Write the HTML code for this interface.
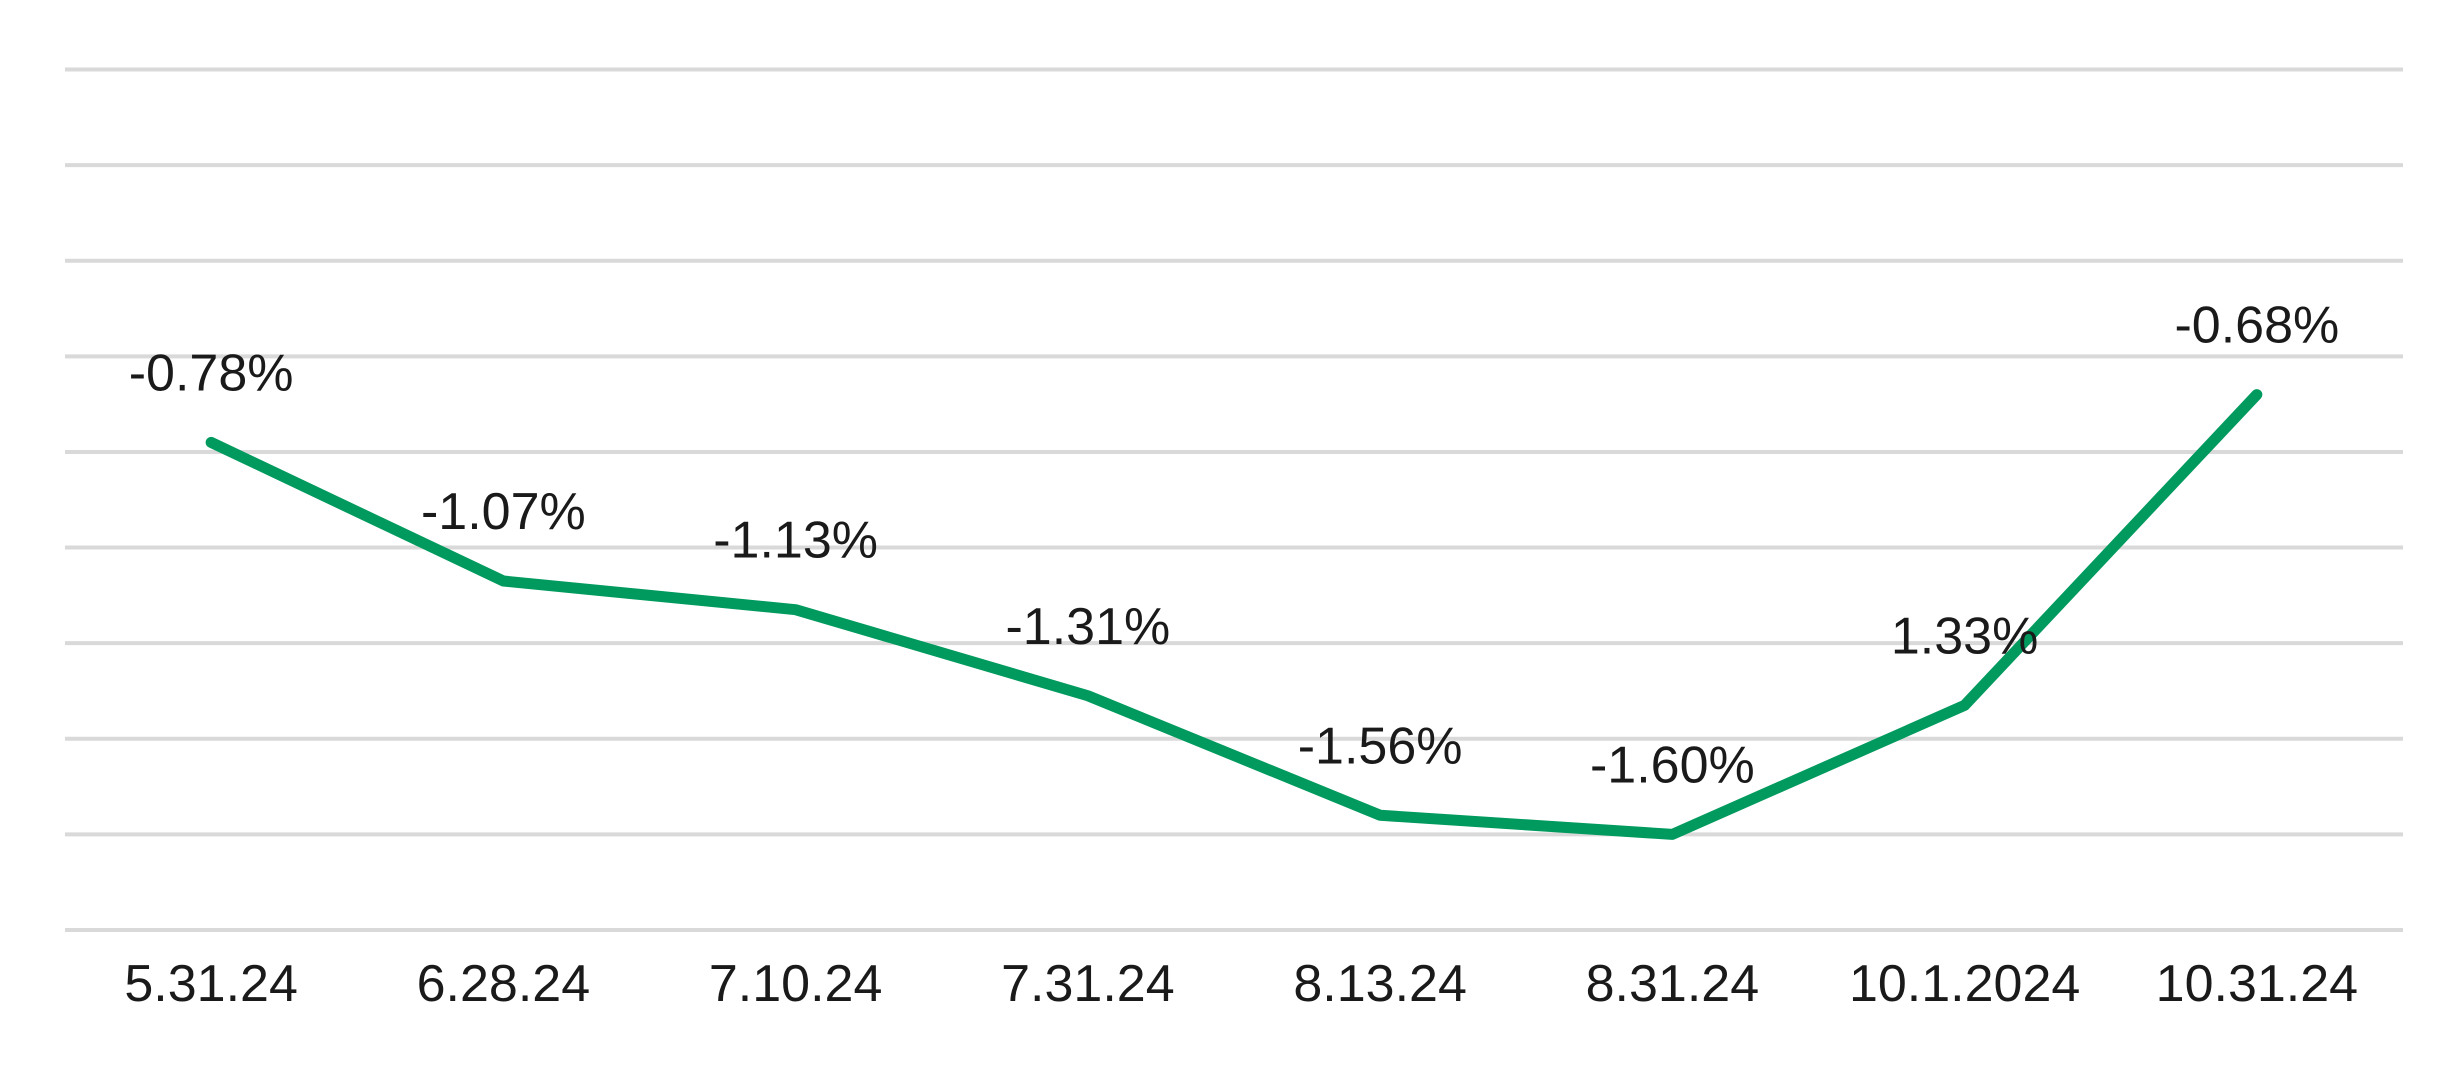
<!DOCTYPE html>
<html><head><meta charset="utf-8"><style>
html,body{margin:0;padding:0;background:#fff;}
svg{display:block;font-family:"Liberation Sans",sans-serif;}
</style></head><body>
<svg id="chart" width="2447" height="1090" viewBox="0 0 2447 1090" xmlns="http://www.w3.org/2000/svg">
<g id="grid"></g>
<g id="series"></g>
<g id="labels"></g>
<g id="xaxis"></g>
</svg>
<script>
const categories = ["5.31.24","6.28.24","7.10.24","7.31.24","8.13.24","8.31.24","10.1.2024","10.31.24"];
const values = [-0.78,-1.07,-1.13,-1.31,-1.56,-1.60,-1.33,-0.68];
const valueLabels = ["-0.78%","-1.07%","-1.13%","-1.31%","-1.56%","-1.60%","1.33%","-0.68%"];
const yTicks = [0,-0.2,-0.4,-0.6,-0.8,-1.0,-1.2,-1.4,-1.6,-1.8];

const SVGNS="http://www.w3.org/2000/svg";
const plotLeft=65,plotRight=2403,plotTop=69.5,plotBottom=930,yMaxV=0,yMinV=-1.8;
function xPos(i){const w=(plotRight-plotLeft)/categories.length;return plotLeft+w*(i+0.5);}
function yPos(v){return plotTop+(yMaxV-v)/(yMaxV-yMinV)*(plotBottom-plotTop);}
function mk(tag,attrs,parent){const e=document.createElementNS(SVGNS,tag);for(const k in attrs)e.setAttribute(k,attrs[k]);parent.appendChild(e);return e;}

const gridG=document.getElementById('grid');
yTicks.forEach(t=>{
  const l=mk('line',{x1:plotLeft,x2:plotRight,y1:yPos(t),y2:yPos(t),stroke:'#d9d9d9','stroke-width':4},gridG);
  
  
});

const seriesG=document.getElementById('series');
const pts=values.map((v,i)=>xPos(i)+','+yPos(v)).join(' ');
const pl=mk('polyline',{points:pts,fill:'none',stroke:'#009A5E','stroke-width':11,'stroke-linejoin':'round','stroke-linecap':'round'},seriesG);



const labelsG=document.getElementById('labels');
values.forEach((v,i)=>{
  const t=mk('text',{x:xPos(i),y:yPos(v)-52,'text-anchor':'middle','font-size':52,fill:'#1a1a1a'},labelsG);
  t.textContent=valueLabels[i];
  
  
});

const xaG=document.getElementById('xaxis');
categories.forEach((c,i)=>{
  const t=mk('text',{x:xPos(i),y:1001,'text-anchor':'middle','font-size':52,fill:'#1a1a1a'},xaG);
  t.textContent=c;
  
  
});
</script>
</body></html>
